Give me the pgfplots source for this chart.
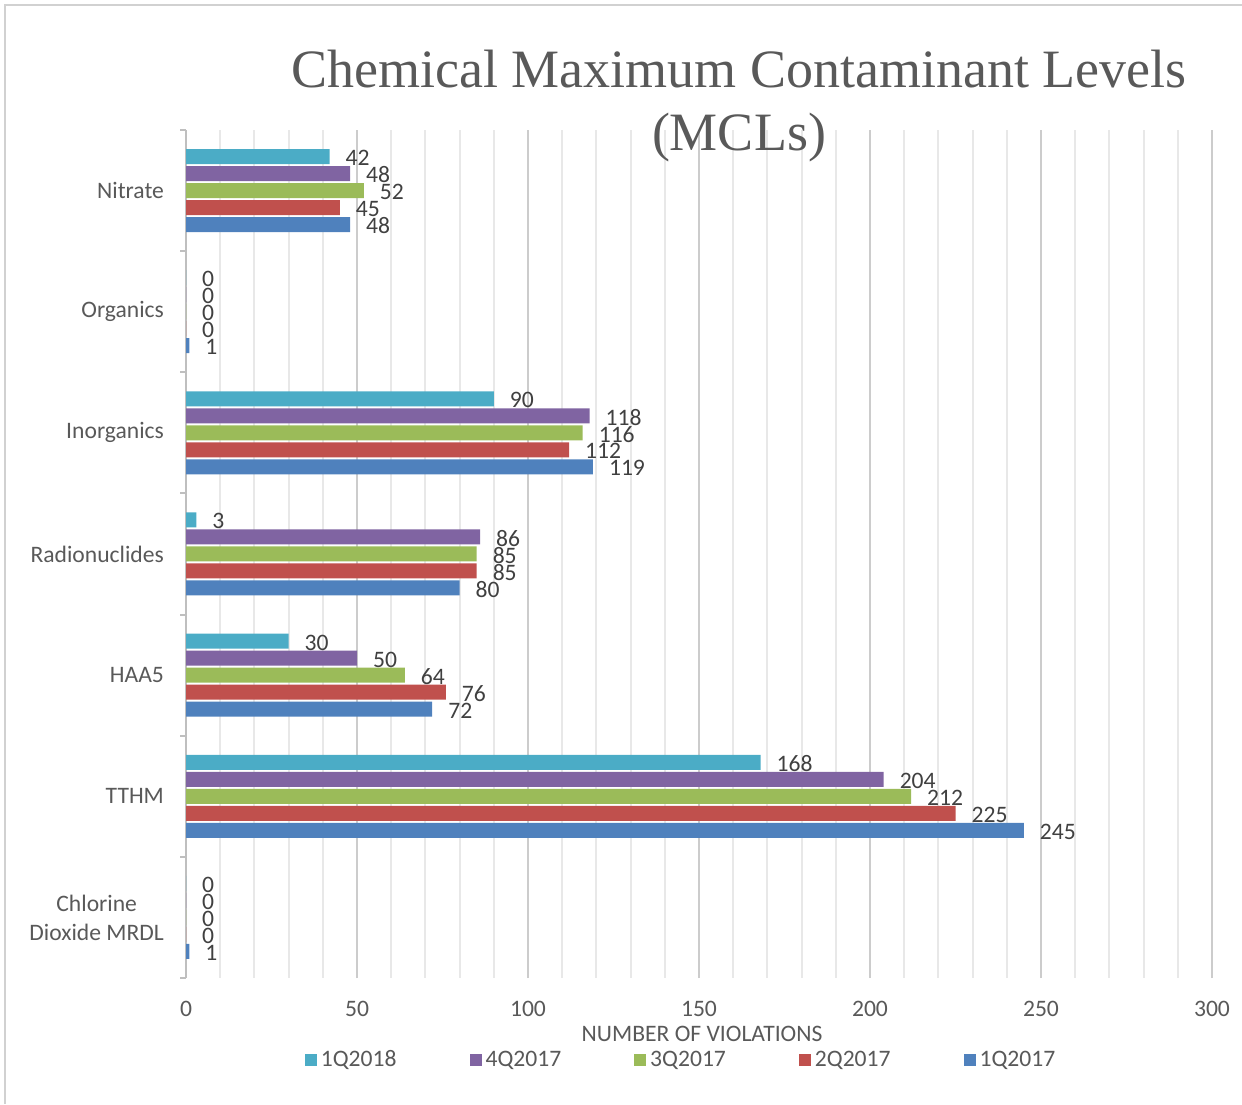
\documentclass[border=0pt]{standalone}
\usepackage{pgfplots}
\pgfplotsset{compat=1.18}
\usepackage{fontspec}
\setmainfont{Carlito}
\newfontfamily\titlefont{Liberation Serif}
\definecolor{cA}{HTML}{4BACC6}
\definecolor{cB}{HTML}{8064A2}
\definecolor{cC}{HTML}{9BBB59}
\definecolor{cD}{HTML}{C0504D}
\definecolor{cE}{HTML}{4F81BD}
\definecolor{txt}{HTML}{595959}
\definecolor{lbl}{HTML}{404040}
\begin{document}
\begin{tikzpicture}
\useasboundingbox (0pt,0pt) rectangle (621pt,552pt);
\draw[black!18, line width=1pt] (2.5pt,0pt) -- (2.5pt,549.5pt) -- (621pt,549.5pt);
\begin{axis}[
  at={(93pt,63pt)}, anchor=south west,
  scale only axis, width=513pt, height=424pt,
  xmin=0, xmax=300, ymin=-0.5, ymax=6.5,
  xbar, bar width=7.5pt,
  /pgf/number format/assume math mode=true,
  axis lines*=left,
  x axis line style={draw=none},
  y axis line style={draw=black!25, line width=1pt},
  xtick={0,50,...,300}, minor x tick num=4,
  xmajorgrids, xminorgrids,
  major x grid style={draw=black!20, line width=1pt},
  minor x grid style={draw=black!9, line width=1pt},
  xtick style={draw=none},
  ytick={0,...,6},
  yticklabels={{Chlorine\\Dioxide MRDL},TTHM,HAA5,Radionuclides,Inorganics,Organics,Nitrate},
  minor ytick={-0.5,0.5,...,6.5},
  major tick length=0pt, minor tick length=3pt, tick align=outside,
  ytick style={draw=black!25, line width=1pt},
  yticklabel style={font=\fontsize{11.8}{14.5}\selectfont, text=txt, align=center, xshift=-7.5pt},
  xticklabel style={font=\fontsize{11.8}{14.5}\selectfont, text=txt, yshift=-8pt},
  xlabel={NUMBER OF VIOLATIONS},
  xlabel style={at={(axis description cs:0.503,-0.066)}, anchor=center, font=\fontsize{11.8}{14.5}\selectfont, text=txt},
  nodes near coords,
  every node near coord/.append style={anchor=west, xshift=4.5pt, yshift=-0.7pt, font=\fontsize{11.8}{14.5}\selectfont, text=lbl},
  legend columns=5,
  legend style={draw=none, at={(0.4835,-0.0967)}, anchor=center, font=\fontsize{11.8}{14.5}\selectfont, text=txt,
    /tikz/every even column/.append style={column sep=34.5pt}},
  legend image code/.code={\fill[#1] (0pt,-3pt) rectangle (6pt,3pt);},
]
\addplot[fill=cA, draw=none, bar shift=17pt] coordinates {(0,0) (168,1) (30,2) (3,3) (90,4) (0,5) (42,6)};
\addplot[fill=cB, draw=none, bar shift=8.5pt] coordinates {(0,0) (204,1) (50,2) (86,3) (118,4) (0,5) (48,6)};
\addplot[fill=cC, draw=none, bar shift=0pt] coordinates {(0,0) (212,1) (64,2) (85,3) (116,4) (0,5) (52,6)};
\addplot[fill=cD, draw=none, bar shift=-8.5pt] coordinates {(0,0) (225,1) (76,2) (85,3) (112,4) (0,5) (45,6)};
\addplot[fill=cE, draw=none, bar shift=-17pt] coordinates {(1,0) (245,1) (72,2) (80,3) (119,4) (1,5) (48,6)};
\legend{1Q2018,4Q2017,3Q2017,2Q2017,1Q2017}
\end{axis}
\node[align=center, text=txt, font=\titlefont\fontsize{27}{31.5}\selectfont] at (369.5pt,499pt) {Chemical Maximum Contaminant Levels\\(MCLs)};
\end{tikzpicture}
\end{document}
